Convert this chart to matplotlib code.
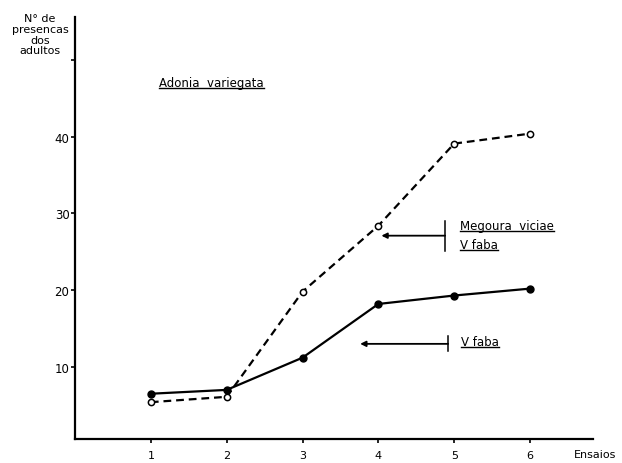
import matplotlib
matplotlib.use("Agg")
import matplotlib.pyplot as plt
from matplotlib.lines import Line2D

# Data
ensaios = [1, 2, 3, 4, 5, 6]
v_faba = [6.5, 7.0, 11.2, 18.2, 19.3, 20.2]             # solid line, filled dots
megoura_v_faba = [5.4, 6.1, 19.8, 28.4, 39.1, 40.4]     # dashed line, open dots
yticks = [10, 20, 30, 40, 50]
ytick_labels = ["10", "20", "30", "40", ""]

plt.rcParams['font.family'] = ['DejaVu Sans']
W, H = 622, 464
fig = plt.figure(figsize=(W / 100, H / 100), dpi=100)
ax = fig.add_axes([75 / W, 1 - 440 / H, (593 - 75) / W, (440 - 18) / H])

ax.plot(ensaios, v_faba, color="black", lw=1.6, marker="o", ms=5,
        mfc="black", mec="black", zorder=3)
ax.plot(ensaios, megoura_v_faba, color="black", lw=1.6, ls=(0, (3.5, 2.2)),
        marker="o", ms=4.5, mfc="white", mec="black", mew=1.1, zorder=3)

ax.set_xlim(0, 6.83)
ax.set_ylim(0.6, 55.6)
ax.set_xticks(ensaios)
ax.set_xticklabels([str(e) for e in ensaios], fontsize=8)
ax.set_yticks(yticks)
ax.set_yticklabels(ytick_labels, fontsize=8.5)
ax.tick_params(axis="x", direction="out", length=3, width=1.2, pad=5)
ax.tick_params(axis="y", direction="out", length=3, width=1.2, pad=1)
for s in ["top", "right"]:
    ax.spines[s].set_visible(False)
for s in ["left", "bottom"]:
    ax.spines[s].set_linewidth(1.6)

# Axis titles
fig.text(595 / W, 1 - 455 / H, "Ensaios", fontsize=8, ha="center", va="center")
fig.text(40 / W, 1 - 14 / H, "N° de\npresencas\ndos\nadultos", fontsize=8,
         ha="center", va="top", linespacing=1.1)

underlined = []
t1 = ax.text(1.11, 47.0, "Adonia  variegata", fontsize=8.5, ha="left", va="center")
underlined.append(t1)

# Upper annotation: Megoura viciae / V faba
ax.annotate("", xy=(4.04, 27.1), xytext=(4.88, 27.1),
            arrowprops=dict(arrowstyle="-|>", color="black", lw=1.3,
                            mutation_scale=8, shrinkA=0, shrinkB=0))
ax.plot([4.88, 4.88], [25.1, 29.0], color="black", lw=1.1)
t2 = ax.text(5.08, 28.4, "Megoura  viciae", fontsize=8.5, ha="left", va="center")
t3 = ax.text(5.08, 25.9, "V faba", fontsize=8.5, ha="left", va="center")
underlined += [t2, t3]

# Lower annotation: V faba
ax.annotate("", xy=(3.76, 13.0), xytext=(4.92, 13.0),
            arrowprops=dict(arrowstyle="-|>", color="black", lw=1.3,
                            mutation_scale=8, shrinkA=0, shrinkB=0))
ax.plot([4.92, 4.92], [12.1, 14.0], color="black", lw=1.1)
t4 = ax.text(5.09, 13.3, "V faba", fontsize=8.5, ha="left", va="center")
underlined.append(t4)

fig.canvas.draw()
for t in underlined:
    bb = t.get_window_extent()
    y = (bb.y0 + 1) / H
    fig.add_artist(Line2D([bb.x0 / W, bb.x1 / W], [y, y], color="black",
                          lw=1.0, transform=fig.transFigure))

fig.savefig("out.png", dpi=100)
